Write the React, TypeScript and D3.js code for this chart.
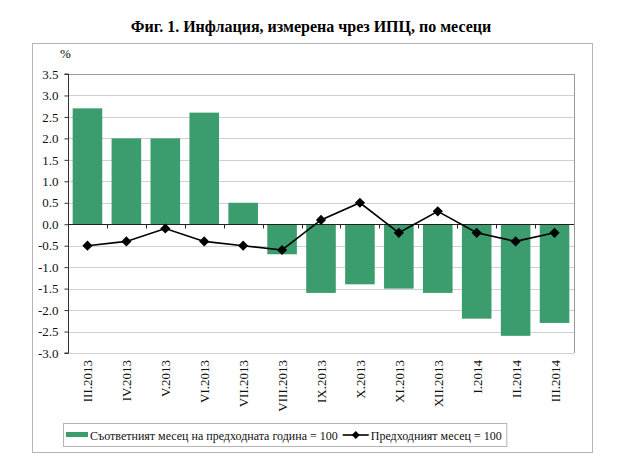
import { useEffect, useRef } from "react";
import * as d3 from "d3";

const categories = [
  "III.2013", "IV.2013", "V.2013", "VI.2013", "VII.2013", "VIII.2013", "IX.2013",
  "X.2013", "XI.2013", "XII.2013", "I.2014", "II.2014", "III.2014",
];
const yearOnYear = [2.7, 2.0, 2.0, 2.6, 0.5, -0.7, -1.6, -1.4, -1.5, -1.6, -2.2, -2.6, -2.3];
const monthOnMonth = [-0.5, -0.4, -0.1, -0.4, -0.5, -0.6, 0.1, 0.5, -0.2, 0.3, -0.2, -0.4, -0.2];
const yTicks = [3.5, 3.0, 2.5, 2.0, 1.5, 1.0, 0.5, 0.0, -0.5, -1.0, -1.5, -2.0, -2.5, -3.0];

const TITLE = "Фиг. 1. Инфлация, измерена чрез ИПЦ, по месеци";
const LEGEND_BAR = "Съответният месец на предходната година = 100";
const LEGEND_LINE = "Предходният месец = 100";

const W = 625;
const H = 461;
const PLOT = { left: 68, right: 574, top: 74, bottom: 353 };
const GREEN = "#3b9d6d";
const FONT = "Liberation Serif, Tinos, Times New Roman, DejaVu Serif, serif";

export default function App() {
  const svgRef = useRef<SVGSVGElement>(null);

  useEffect(() => {
    if (!svgRef.current) return;
    const svg = d3.select(svgRef.current);
    svg.selectAll("*").remove();

    svg.append("rect").attr("width", W).attr("height", H).attr("fill", "#fff");

    // Title
    svg
      .append("text")
      .attr("x", 311)
      .attr("y", 32)
      .attr("text-anchor", "middle")
      .style("font-family", FONT)
      .attr("font-weight", "bold")
      .attr("font-size", "16px")
      .text(TITLE);

    // Outer frame
    svg
      .append("rect")
      .attr("x", 32.5)
      .attr("y", 43.5)
      .attr("width", 560)
      .attr("height", 409)
      .attr("fill", "none")
      .attr("stroke", "#b4b4b4");

    const x = d3
      .scaleBand()
      .domain(categories)
      .range([PLOT.left, PLOT.right])
      .paddingInner(0.24)
      .paddingOuter(0.12);
    const step = x.step();

    const y = d3.scaleLinear().domain([-3, 3.5]).range([PLOT.bottom, PLOT.top]);

    // Gridlines
    svg
      .append("g")
      .selectAll("line")
      .data(yTicks)
      .join("line")
      .attr("x1", PLOT.left)
      .attr("x2", PLOT.right)
      .attr("y1", (d) => Math.round(y(d)) + 0.5)
      .attr("y2", (d) => Math.round(y(d)) + 0.5)
      .attr("stroke", (d) => (d === 3.5 ? "#999" : "#d0d0d0"))
      .attr("stroke-width", 1);

    // Right border of plot
    svg
      .append("line")
      .attr("x1", PLOT.right + 0.5)
      .attr("x2", PLOT.right + 0.5)
      .attr("y1", PLOT.top)
      .attr("y2", PLOT.bottom)
      .attr("stroke", "#999");

    // Bars
    svg
      .append("g")
      .selectAll("rect")
      .data(yearOnYear)
      .join("rect")
      .attr("x", (_, i) => x(categories[i])!)
      .attr("width", x.bandwidth())
      .attr("y", (d) => y(Math.max(0, d)))
      .attr("height", (d) => Math.abs(y(d) - y(0)))
      .attr("fill", GREEN);

    // Y axis
    const yAxis = svg
      .append("g")
      .attr("transform", `translate(${PLOT.left + 0.5},0)`)
      .call(
        d3
          .axisLeft(y)
          .tickValues(yTicks)
          .tickSize(4)
          .tickPadding(6)
          .tickFormat((d) => d3.format(".1f")(d as number).replace("−", "-")),
      );
    yAxis.attr("font-family", null);
    yAxis.select(".domain").attr("stroke", "#333").attr("d", `M-4,${PLOT.top}H0V${PLOT.bottom}H-4`);
    yAxis.selectAll(".tick line").attr("stroke", "#333");
    yAxis
      .selectAll(".tick text")
      .style("font-family", FONT)
      .attr("font-size", "13px")
      .attr("fill", "#111");

    // Zero line with category ticks
    const zeroY = Math.round(y(0)) + 0.5;
    svg
      .append("line")
      .attr("x1", PLOT.left)
      .attr("x2", PLOT.right)
      .attr("y1", zeroY)
      .attr("y2", zeroY)
      .attr("stroke", "#222")
      .attr("stroke-width", 1.2);
    svg
      .append("g")
      .selectAll("line")
      .data(categories.slice(1))
      .join("line")
      .attr("x1", (d) => Math.round(x(d)! - (step - x.bandwidth()) / 2) + 0.5)
      .attr("x2", (d) => Math.round(x(d)! - (step - x.bandwidth()) / 2) + 0.5)
      .attr("y1", zeroY)
      .attr("y2", zeroY + 4)
      .attr("stroke", "#222");

    // Category labels
    svg
      .append("g")
      .selectAll("text")
      .data(categories)
      .join("text")
      .attr(
        "transform",
        (d) => `translate(${x(d)! + x.bandwidth() / 2 + 5},${PLOT.bottom + 7}) rotate(-90)`,
      )
      .attr("text-anchor", "end")
      .style("font-family", FONT)
      .attr("font-size", "13px")
      .attr("fill", "#111")
      .text((d) => d);

    // Line series
    const cx = (i: number) => x(categories[i])! + x.bandwidth() / 2;
    const line = d3
      .line<number>()
      .x((_, i) => cx(i))
      .y((d) => y(d));
    svg
      .append("path")
      .datum(monthOnMonth)
      .attr("d", line)
      .attr("fill", "none")
      .attr("stroke", "#000")
      .attr("stroke-width", 1.6);
    const diamond = d3.symbol().type(d3.symbolSquare).size(52);
    svg
      .append("g")
      .selectAll("path")
      .data(monthOnMonth)
      .join("path")
      .attr("transform", (d, i) => `translate(${cx(i)},${y(d)}) rotate(45)`)
      .attr("d", diamond)
      .attr("fill", "#000");

    // "%" label
    svg
      .append("text")
      .attr("x", 60)
      .attr("y", 58)
      .style("font-family", FONT)
      .attr("font-size", "13px")
      .text("%");

    // Legend
    const lg = svg.append("g");
    const box = lg
      .append("rect")
      .attr("x", 63.5)
      .attr("y", 423.5)
      .attr("height", 23)
      .attr("fill", "#fff")
      .attr("stroke", "#b4b4b4");
    lg.append("rect")
      .attr("x", 66)
      .attr("y", 432)
      .attr("width", 22)
      .attr("height", 5)
      .attr("fill", GREEN);
    const t1 = lg
      .append("text")
      .attr("x", 90)
      .attr("y", 440)
      .style("font-family", FONT)
      .attr("font-size", "12px")
      .attr("fill", "#111")
      .text(LEGEND_BAR);
    const t1End = 90 + (t1.node() as SVGTextElement).getComputedTextLength();
    const lx = t1End + 5;
    lg.append("line")
      .attr("x1", lx)
      .attr("x2", lx + 26)
      .attr("y1", 435)
      .attr("y2", 435)
      .attr("stroke", "#000")
      .attr("stroke-width", 1.6);
    lg.append("path")
      .attr("transform", `translate(${lx + 13},435) rotate(45)`)
      .attr("d", d3.symbol().type(d3.symbolSquare).size(32)())
      .attr("fill", "#000");
    const t2 = lg
      .append("text")
      .attr("x", lx + 28)
      .attr("y", 440)
      .style("font-family", FONT)
      .attr("font-size", "12px")
      .attr("fill", "#111")
      .text(LEGEND_LINE);
    const t2End = lx + 28 + (t2.node() as SVGTextElement).getComputedTextLength();
    box.attr("width", Math.max(436, t2End + 5 - 63.5));
  }, []);

  return (
    <svg
      ref={svgRef}
      width={W}
      height={H}
      style={{ position: "absolute", left: 0, top: 0, display: "block" }}
    />
  );
}
